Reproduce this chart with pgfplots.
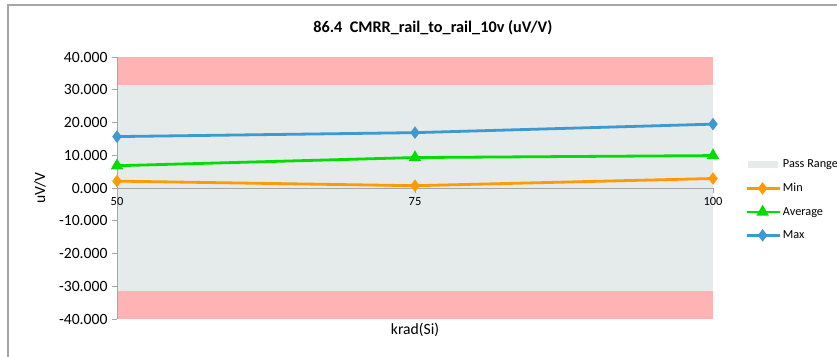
\documentclass[border=0pt]{standalone}
\usepackage{pgfplots}
\pgfplotsset{compat=1.18}
\usepackage{fontspec}
\setmainfont{Carlito}

\definecolor{passgray}{HTML}{E5EAEA}
\definecolor{failpink}{HTML}{FFB3B3}
\definecolor{minorange}{HTML}{FF9A00}
\definecolor{avggreen}{HTML}{00DD00}
\definecolor{maxblue}{HTML}{3C9AD0}
\definecolor{axisgray}{HTML}{A6A6A6}

\pgfplotsset{
  lineleg/.style={legend image code/.code={
    \draw[##1, mark repeat=2, mark phase=2] plot coordinates {(0bp,0bp) (16bp,0bp) (33bp,0bp)};}},
  passleg/.style={legend image code/.code={
    \fill[##1] (1bp,-3.5bp) rectangle (31bp,3.5bp);}},
}

\begin{document}
\begin{tikzpicture}
\useasboundingbox (-117bp,-38bp) rectangle (720bp,319bp);
\draw[axisgray, line width=1.2bp] (-109bp,-38bp) -- (-109bp,314bp) -- (720bp,314bp);
\begin{axis}[
    axis on top,
    at={(0,0)}, anchor=south west,
    scale only axis,
    width=596bp, height=262bp,
    xmin=50, xmax=100,
    ymin=-40, ymax=40,
    clip=false,
    axis x line=middle, axis y line=left,
    hide obscured x ticks=false,
    axis line style={-, draw=axisgray, line width=0.8bp},
    xtick={50,75,100},
    ytick={-40,-30,-20,-10,0,10,20,30,40},
    tick align=outside,
    major tick length=5bp,
    tick style={axisgray, line width=0.8bp},
    /pgf/number format/assume math mode=true,
    yticklabel style={/pgf/number format/fixed, /pgf/number format/fixed zerofill,
      /pgf/number format/precision=3,
      font=\fontsize{15.7}{18}\selectfont, xshift=-1bp},
    xticklabel style={font=\fontsize{12.5}{15}\selectfont, anchor=north, yshift=-1bp},
    xticklabel={\pgfmathprintnumber[fixed, precision=0]{\tick}},
    xlabel={krad(Si)},
    xlabel style={at={(axis description cs:0.5,0)}, anchor=north, yshift=-1bp, font=\fontsize{15.7}{18}\selectfont},
    ylabel={uV/V},
    ylabel style={at={(axis description cs:-0.129,0.5)}, anchor=center, font=\fontsize{15.7}{18}\selectfont},
    title={86.4\ \ CMRR\_rail\_to\_rail\_10v (uV/V)},
    title style={at={(axis description cs:0.53,1)}, anchor=center, yshift=23bp, font=\bfseries\fontsize{16.3}{19}\selectfont},
    legend style={at={(axis description cs:1,0.454)}, anchor=west, xshift=32bp,
      draw=none, fill=none, inner sep=0pt, row sep=10bp,
      font=\fontsize{12.3}{15}\selectfont,
      /tikz/every even column/.append style={column sep=2bp}},
    legend cell align=left,
]

\addplot[fill=failpink, draw=none, forget plot]
    coordinates {(50,31.6) (100,31.6) (100,40) (50,40)} -- cycle;
\addplot[fill=failpink, draw=none, forget plot]
    coordinates {(50,-40) (100,-40) (100,-31.6) (50,-31.6)} -- cycle;
\addplot[fill=passgray, draw=none, passleg]
    coordinates {(50,-31.6) (100,-31.6) (100,31.6) (50,31.6)} -- cycle;

\addplot[minorange, line width=2.8bp, mark=diamond*, mark size=4bp, lineleg]
    coordinates {(50,2.1) (75,0.7) (100,2.9)};
\addplot[avggreen, line width=2.8bp, mark=triangle*, mark size=4.5bp, lineleg]
    coordinates {(50,6.8) (75,9.3) (100,9.9)};
\addplot[maxblue, line width=2.8bp, mark=diamond*, mark size=4bp, lineleg]
    coordinates {(50,15.7) (75,16.9) (100,19.5)};

\legend{Pass Range, Min, Average, Max}
\end{axis}
\end{tikzpicture}
\end{document}
